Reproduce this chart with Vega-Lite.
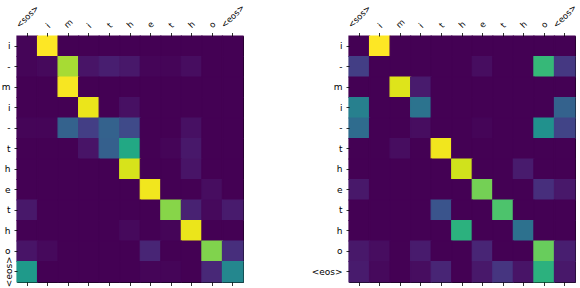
{
 "$schema": "https://vega.github.io/schema/vega-lite/v6.json",
 "padding": {"left": 0, "top": 2, "right": 0, "bottom": 0},
 "background": "white",
 "spacing": 63,
 "config": {
  "font": "DejaVu Sans",
  "view": {"stroke": "#000", "strokeWidth": 1, "fill": "#440154"},
  "axis": {"labelColor": "#000", "tickColor": "#000", "tickWidth": 0.8, "domain": false, "grid": false, "title": null, "labelFont": "DejaVu Sans"}
 },
 "datasets": {
  "a": [
   {"r":0,"c":0,"v":0.01},{"r":0,"c":1,"v":1.0},{"r":0,"c":2,"v":0},{"r":0,"c":3,"v":0},{"r":0,"c":4,"v":0},{"r":0,"c":5,"v":0},{"r":0,"c":6,"v":0},{"r":0,"c":7,"v":0},{"r":0,"c":8,"v":0},{"r":0,"c":9,"v":0},{"r":0,"c":10,"v":0},
   {"r":1,"c":0,"v":0.01},{"r":1,"c":1,"v":0.02},{"r":1,"c":2,"v":0.87},{"r":1,"c":3,"v":0.05},{"r":1,"c":4,"v":0.08},{"r":1,"c":5,"v":0.06},{"r":1,"c":6,"v":0.01},{"r":1,"c":7,"v":0.01},{"r":1,"c":8,"v":0.03},{"r":1,"c":9,"v":0},{"r":1,"c":10,"v":0},
   {"r":2,"c":0,"v":0},{"r":2,"c":1,"v":0},{"r":2,"c":2,"v":0.99},{"r":2,"c":3,"v":0},{"r":2,"c":4,"v":0},{"r":2,"c":5,"v":0},{"r":2,"c":6,"v":0},{"r":2,"c":7,"v":0},{"r":2,"c":8,"v":0},{"r":2,"c":9,"v":0},{"r":2,"c":10,"v":0},
   {"r":3,"c":0,"v":0},{"r":3,"c":1,"v":0},{"r":3,"c":2,"v":0},{"r":3,"c":3,"v":0.97},{"r":3,"c":4,"v":0},{"r":3,"c":5,"v":0.04},{"r":3,"c":6,"v":0},{"r":3,"c":7,"v":0},{"r":3,"c":8,"v":0},{"r":3,"c":9,"v":0},{"r":3,"c":10,"v":0},
   {"r":4,"c":0,"v":0.01},{"r":4,"c":1,"v":0.01},{"r":4,"c":2,"v":0.31},{"r":4,"c":3,"v":0.18},{"r":4,"c":4,"v":0.31},{"r":4,"c":5,"v":0.22},{"r":4,"c":6,"v":0},{"r":4,"c":7,"v":0},{"r":4,"c":8,"v":0.04},{"r":4,"c":9,"v":0},{"r":4,"c":10,"v":0},
   {"r":5,"c":0,"v":0},{"r":5,"c":1,"v":0},{"r":5,"c":2,"v":0},{"r":5,"c":3,"v":0.05},{"r":5,"c":4,"v":0.3},{"r":5,"c":5,"v":0.6},{"r":5,"c":6,"v":0},{"r":5,"c":7,"v":0.01},{"r":5,"c":8,"v":0.06},{"r":5,"c":9,"v":0},{"r":5,"c":10,"v":0},
   {"r":6,"c":0,"v":0},{"r":6,"c":1,"v":0},{"r":6,"c":2,"v":0},{"r":6,"c":3,"v":0},{"r":6,"c":4,"v":0},{"r":6,"c":5,"v":0.94},{"r":6,"c":6,"v":0},{"r":6,"c":7,"v":0},{"r":6,"c":8,"v":0.05},{"r":6,"c":9,"v":0},{"r":6,"c":10,"v":0},
   {"r":7,"c":0,"v":0},{"r":7,"c":1,"v":0},{"r":7,"c":2,"v":0},{"r":7,"c":3,"v":0},{"r":7,"c":4,"v":0},{"r":7,"c":5,"v":0},{"r":7,"c":6,"v":0.98},{"r":7,"c":7,"v":0},{"r":7,"c":8,"v":0},{"r":7,"c":9,"v":0.03},{"r":7,"c":10,"v":0},
   {"r":8,"c":0,"v":0.06},{"r":8,"c":1,"v":0},{"r":8,"c":2,"v":0},{"r":8,"c":3,"v":0},{"r":8,"c":4,"v":0},{"r":8,"c":5,"v":0},{"r":8,"c":6,"v":0},{"r":8,"c":7,"v":0.82},{"r":8,"c":8,"v":0.09},{"r":8,"c":9,"v":0.02},{"r":8,"c":10,"v":0.07},
   {"r":9,"c":0,"v":0},{"r":9,"c":1,"v":0},{"r":9,"c":2,"v":0},{"r":9,"c":3,"v":0},{"r":9,"c":4,"v":0},{"r":9,"c":5,"v":0.02},{"r":9,"c":6,"v":0},{"r":9,"c":7,"v":0.01},{"r":9,"c":8,"v":0.97},{"r":9,"c":9,"v":0},{"r":9,"c":10,"v":0},
   {"r":10,"c":0,"v":0.05},{"r":10,"c":1,"v":0.02},{"r":10,"c":2,"v":0},{"r":10,"c":3,"v":0},{"r":10,"c":4,"v":0},{"r":10,"c":5,"v":0},{"r":10,"c":6,"v":0.1},{"r":10,"c":7,"v":0},{"r":10,"c":8,"v":0},{"r":10,"c":9,"v":0.81},{"r":10,"c":10,"v":0.13},
   {"r":11,"c":0,"v":0.54},{"r":11,"c":1,"v":0},{"r":11,"c":2,"v":0},{"r":11,"c":3,"v":0},{"r":11,"c":4,"v":0},{"r":11,"c":5,"v":0},{"r":11,"c":6,"v":0.01},{"r":11,"c":7,"v":0.01},{"r":11,"c":8,"v":0},{"r":11,"c":9,"v":0.11},{"r":11,"c":10,"v":0.46}
  ],
  "b": [
   {"r":0,"c":0,"v":0},{"r":0,"c":1,"v":1.0},{"r":0,"c":2,"v":0},{"r":0,"c":3,"v":0},{"r":0,"c":4,"v":0},{"r":0,"c":5,"v":0},{"r":0,"c":6,"v":0},{"r":0,"c":7,"v":0},{"r":0,"c":8,"v":0},{"r":0,"c":9,"v":0},{"r":0,"c":10,"v":0},
   {"r":1,"c":0,"v":0.18},{"r":1,"c":1,"v":0},{"r":1,"c":2,"v":0},{"r":1,"c":3,"v":0},{"r":1,"c":4,"v":0},{"r":1,"c":5,"v":0},{"r":1,"c":6,"v":0.03},{"r":1,"c":7,"v":0},{"r":1,"c":8,"v":0},{"r":1,"c":9,"v":0.67},{"r":1,"c":10,"v":0.16},
   {"r":2,"c":0,"v":0},{"r":2,"c":1,"v":0},{"r":2,"c":2,"v":0.95},{"r":2,"c":3,"v":0.07},{"r":2,"c":4,"v":0},{"r":2,"c":5,"v":0},{"r":2,"c":6,"v":0},{"r":2,"c":7,"v":0},{"r":2,"c":8,"v":0},{"r":2,"c":9,"v":0},{"r":2,"c":10,"v":0},
   {"r":3,"c":0,"v":0.43},{"r":3,"c":1,"v":0},{"r":3,"c":2,"v":0},{"r":3,"c":3,"v":0.38},{"r":3,"c":4,"v":0},{"r":3,"c":5,"v":0},{"r":3,"c":6,"v":0},{"r":3,"c":7,"v":0},{"r":3,"c":8,"v":0},{"r":3,"c":9,"v":0},{"r":3,"c":10,"v":0.31},
   {"r":4,"c":0,"v":0.35},{"r":4,"c":1,"v":0},{"r":4,"c":2,"v":0},{"r":4,"c":3,"v":0.03},{"r":4,"c":4,"v":0},{"r":4,"c":5,"v":0},{"r":4,"c":6,"v":0.01},{"r":4,"c":7,"v":0},{"r":4,"c":8,"v":0},{"r":4,"c":9,"v":0.5},{"r":4,"c":10,"v":0.2},
   {"r":5,"c":0,"v":0},{"r":5,"c":1,"v":0},{"r":5,"c":2,"v":0.03},{"r":5,"c":3,"v":0},{"r":5,"c":4,"v":0.98},{"r":5,"c":5,"v":0},{"r":5,"c":6,"v":0},{"r":5,"c":7,"v":0},{"r":5,"c":8,"v":0},{"r":5,"c":9,"v":0},{"r":5,"c":10,"v":0},
   {"r":6,"c":0,"v":0},{"r":6,"c":1,"v":0},{"r":6,"c":2,"v":0},{"r":6,"c":3,"v":0},{"r":6,"c":4,"v":0},{"r":6,"c":5,"v":0.93},{"r":6,"c":6,"v":0},{"r":6,"c":7,"v":0},{"r":6,"c":8,"v":0.07},{"r":6,"c":9,"v":0},{"r":6,"c":10,"v":0},
   {"r":7,"c":0,"v":0.06},{"r":7,"c":1,"v":0},{"r":7,"c":2,"v":0},{"r":7,"c":3,"v":0},{"r":7,"c":4,"v":0},{"r":7,"c":5,"v":0},{"r":7,"c":6,"v":0.79},{"r":7,"c":7,"v":0},{"r":7,"c":8,"v":0},{"r":7,"c":9,"v":0.13},{"r":7,"c":10,"v":0.06},
   {"r":8,"c":0,"v":0},{"r":8,"c":1,"v":0},{"r":8,"c":2,"v":0},{"r":8,"c":3,"v":0},{"r":8,"c":4,"v":0.26},{"r":8,"c":5,"v":0},{"r":8,"c":6,"v":0},{"r":8,"c":7,"v":0.72},{"r":8,"c":8,"v":0},{"r":8,"c":9,"v":0},{"r":8,"c":10,"v":0},
   {"r":9,"c":0,"v":0},{"r":9,"c":1,"v":0},{"r":9,"c":2,"v":0},{"r":9,"c":3,"v":0},{"r":9,"c":4,"v":0},{"r":9,"c":5,"v":0.64},{"r":9,"c":6,"v":0},{"r":9,"c":7,"v":0},{"r":9,"c":8,"v":0.37},{"r":9,"c":9,"v":0},{"r":9,"c":10,"v":0},
   {"r":10,"c":0,"v":0.06},{"r":10,"c":1,"v":0.03},{"r":10,"c":2,"v":0},{"r":10,"c":3,"v":0.07},{"r":10,"c":4,"v":0},{"r":10,"c":5,"v":0},{"r":10,"c":6,"v":0.1},{"r":10,"c":7,"v":0},{"r":10,"c":8,"v":0},{"r":10,"c":9,"v":0.77},{"r":10,"c":10,"v":0.08},
   {"r":11,"c":0,"v":0.07},{"r":11,"c":1,"v":0.02},{"r":11,"c":2,"v":0},{"r":11,"c":3,"v":0.03},{"r":11,"c":4,"v":0.1},{"r":11,"c":5,"v":0},{"r":11,"c":6,"v":0.06},{"r":11,"c":7,"v":0.15},{"r":11,"c":8,"v":0.05},{"r":11,"c":9,"v":0.64},{"r":11,"c":10,"v":0.06}
  ]
 },
 "hconcat": [
  {
   "width": 226, "height": 246,
   "data": {"name": "a"},
   "layer": [
    {
     "mark": {"type": "rect", "strokeWidth": 1.2},
     "encoding": {
      "x": {"field": "c", "type": "ordinal", "scale": {"paddingInner": 0, "paddingOuter": 0},
       "axis": {"orient": "top", "title": null, "labelAngle": -45, "labelAlign": "left", "labelBaseline": "middle", "labelFontSize": 8.5, "labelPadding": 6.5, "tickSize": 3.5, "labelOverlap": false, "labelBound": false, "labelFlush": false,
        "labelExpr": "['<sos>','i','m','i','t','h','e','t','h','o','<eos>'][datum.value]",
        "labelOffset": {"expr": "[-10,-0.8,-3,-0.8,-1.1,-1.9,-1.8,-1.1,-1.9,-1.8,-10.3][datum.value]"}}},
      "y": {"field": "r", "type": "ordinal", "scale": {"paddingInner": 0, "paddingOuter": 0},
       "axis": {"title": null, "labelFontSize": 9, "tickSize": 3, "labelOverlap": false, "labelBound": false,
        "labelBaseline": "middle",
        "labelAngle": {"expr": "datum.value === 11 ? -90 : 0"},
        "labelAlign": {"expr": "datum.value === 11 ? 'center' : 'right'"},
        "labelPadding": {"expr": "datum.value === 11 ? 6 : 4"},
        "labelExpr": "['i','-','m','i','-','t','h','e','t','h','o','<eos>'][datum.value]"}},
      "color": {"field": "v", "type": "quantitative", "scale": {"scheme": "viridis", "domain": [0, 1]}, "legend": null},
      "stroke": {"field": "v", "type": "quantitative", "scale": {"scheme": "viridis", "domain": [0, 1]}, "legend": null}
     }
    },
    {
     "mark": {"type": "rect", "opacity": 0},
     "encoding": {
      "x": {"field": "c", "type": "ordinal", "axis": {"orient": "bottom", "title": null, "labels": false, "tickSize": 3.5}}
     }
    }
   ],
   "resolve": {"axis": {"x": "independent"}}
  },
  {
   "width": 226, "height": 246,
   "data": {"name": "b"},
   "layer": [
    {
     "mark": {"type": "rect", "strokeWidth": 1.2},
     "encoding": {
      "x": {"field": "c", "type": "ordinal", "scale": {"paddingInner": 0, "paddingOuter": 0},
       "axis": {"orient": "top", "title": null, "labelAngle": -45, "labelAlign": "left", "labelBaseline": "middle", "labelFontSize": 8.5, "labelPadding": 6.5, "tickSize": 3.5, "labelOverlap": false, "labelBound": false, "labelFlush": false,
        "labelExpr": "['<sos>','i','m','i','t','h','e','t','h','o','<eos>'][datum.value]",
        "labelOffset": {"expr": "[-10,-0.8,-3,-0.8,-1.1,-1.9,-1.8,-1.1,-1.9,-1.8,-10.3][datum.value]"}}},
      "y": {"field": "r", "type": "ordinal", "scale": {"paddingInner": 0, "paddingOuter": 0},
       "axis": {"title": null, "labelFontSize": 9, "labelPadding": 4, "tickSize": 3, "labelOverlap": false,
        "labelExpr": "['i','-','m','i','-','t','h','e','t','h','o','<eos>'][datum.value]"}},
      "color": {"field": "v", "type": "quantitative", "scale": {"scheme": "viridis", "domain": [0, 1]}, "legend": null},
      "stroke": {"field": "v", "type": "quantitative", "scale": {"scheme": "viridis", "domain": [0, 1]}, "legend": null}
     }
    },
    {
     "mark": {"type": "rect", "opacity": 0},
     "encoding": {
      "x": {"field": "c", "type": "ordinal", "axis": {"orient": "bottom", "title": null, "labels": false, "tickSize": 3.5}}
     }
    }
   ],
   "resolve": {"axis": {"x": "independent"}}
  }
 ]
}
